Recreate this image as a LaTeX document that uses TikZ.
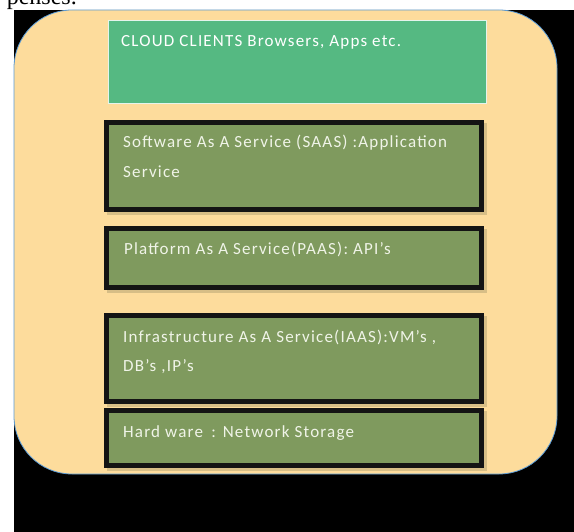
\documentclass[tikz,border=0pt]{standalone}
\usepackage{fontspec}
\setmainfont[LetterSpace=7]{Carlito}
\newfontfamily\penfont{Liberation Serif}
\definecolor{peach}{RGB}{253,220,156}
\definecolor{edgeblue}{RGB}{91,155,213}
\definecolor{cloudgreen}{RGB}{85,185,130}
\definecolor{olive}{RGB}{127,154,94}
\definecolor{shadowtan}{RGB}{190,170,120}
\definecolor{lighttext}{RGB}{240,244,232}
\definecolor{nearblack}{RGB}{20,20,20}
\tikzset{
  olivebox/.style={draw=nearblack, line width=5pt, fill=olive, rectangle, inner sep=0pt},
  shadowbox/.style={fill=shadowtan, opacity=0.6},
  cloudbox/.style={draw=white!85!cloudgreen, line width=1.5pt, fill=cloudgreen, rectangle, inner sep=0pt},
  boxtext/.style={anchor=base west, inner sep=0pt, text=lighttext, font=\fontsize{17}{30}\selectfont, align=left},
}
\begin{document}
\begin{tikzpicture}[x=1pt,y=-1pt]
\useasboundingbox (0,0) rectangle (574,532);
\clip (0,0) rectangle (574,532);
\fill[white] (0,0) rectangle (574,532);
\node[anchor=base east, inner sep=0pt, font=\penfont\fontsize{24}{24}\selectfont] (pen) at (77,5) {penses.};
\fill[black] (14,10) rectangle (574,532);
% peach rounded panel
\path[fill=peach, draw=edgeblue, line width=0.8pt, rounded corners=58pt] (14,10) rectangle (557,474);
% cloud clients
\node[cloudbox, minimum width=378pt, minimum height=83pt] (cloud) at (297.5,62) {};
\node[boxtext, text=white] (cloudtxt) at (121,47) {CLOUD CLIENTS Browsers, Apps etc.};
% shadows
\fill[shadowbox] (107,123) rectangle (487,215);
\fill[shadowbox] (107,229) rectangle (487,293);
\fill[shadowbox] (107,316) rectangle (487,407);
\fill[shadowbox] (107,411) rectangle (487,471);
% layers
\node[olivebox, minimum width=375pt, minimum height=87pt] (saas) at (294,166) {};
\node[boxtext] (saastxt) at (123,178) {Software As A Service (SAAS) :Application\\Service};
\node[olivebox, minimum width=375pt, minimum height=59pt] (paas) at (294,258) {};
\node[boxtext] (paastxt) at (124,255) {Platform As A Service(PAAS): API’s};
\node[olivebox, minimum width=375pt, minimum height=86pt] (iaas) at (294,358.5) {};
\node[boxtext] (iaastxt) at (123,372) {Infrastructure As A Service(IAAS):VM’s ,\\DB’s ,IP’s};
\node[olivebox, minimum width=375pt, minimum height=55pt] (hw) at (294,438) {};
\node[boxtext] (hwtxt) at (123,437) {Hard ware\enspace: Network Storage};
\end{tikzpicture}
\end{document}
